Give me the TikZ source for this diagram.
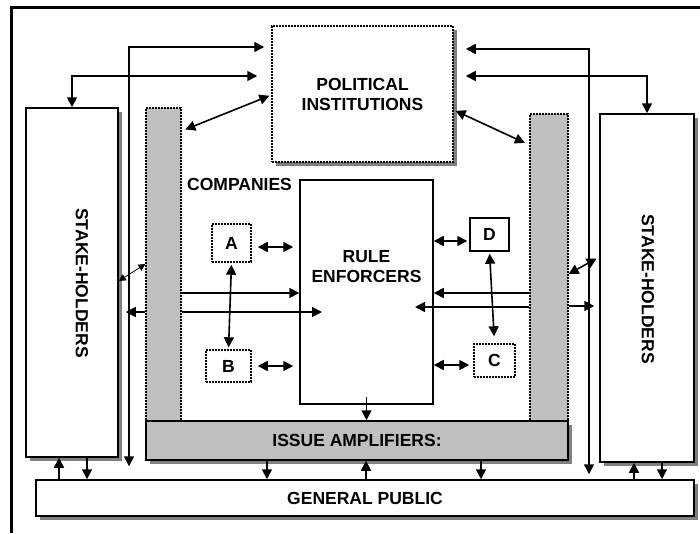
\documentclass[tikz,border=0pt]{standalone}
\usepackage{fontspec}
\setmainfont{Liberation Sans}
\usetikzlibrary{arrows.meta,shadows,positioning}

\begin{document}
\begin{tikzpicture}[x=1pt,y=-1pt,
  lbl/.style={font=\fontsize{17.5}{20}\selectfont\bfseries, align=center, inner sep=0pt},
  box/.style={draw=black, line width=1.5pt, fill=white, inner sep=0pt},
  shbox/.style={box, drop shadow={shadow xshift=4pt, shadow yshift=-4pt, fill=black!50, opacity=1}},
  dbox/.style={box, dash pattern=on 2pt off 1pt},
  bar/.style={draw=black, line width=1.2pt, fill=black!25, dash pattern=on 2pt off 1pt, inner sep=0pt},
  conn/.style={line width=1.6pt, -{Triangle[length=10pt,width=10pt]}},
  dconn/.style={line width=1.6pt, {Triangle[length=10pt,width=10pt]}-{Triangle[length=10pt,width=10pt]}},
  tconn/.style={line width=0.8pt, {Triangle[length=7pt,width=7pt]}-{Triangle[length=7pt,width=7pt]}}]
  \useasboundingbox (0,0) rectangle (700,533);
  \draw[line width=3pt] (11.5,533) -- (11.5,7.5) -- (700,7.5);

  % boxes
  \node[shbox, dash pattern=on 2pt off 1pt, minimum width=181pt, minimum height=136pt, lbl] (pol) at (362.5,94) {POLITICAL\\INSTITUTIONS};
  \node[shbox, minimum width=92pt, minimum height=349pt] (shl) at (72,282.5) {};
  \node[shbox, minimum width=94pt, minimum height=348pt] (shr) at (647,288) {};
  \node[lbl, rotate=-90] (shllbl) at (82,283) {STAKE-HOLDERS};
  \node[lbl, rotate=-90] (shrlbl) at (648,289) {STAKE-HOLDERS};
  \node[bar, minimum width=35pt, minimum height=313pt] (barl) at (163.5,264.5) {};
  \node[bar, minimum width=38pt, minimum height=307pt] (barr) at (549,267.5) {};
  \node[shbox, fill=black!25, minimum width=422pt, minimum height=39pt, lbl] (amp) at (357,440.5) {ISSUE AMPLIFIERS:};
  \node[shbox, minimum width=658pt, minimum height=36pt, lbl] (pub) at (365,498) {GENERAL PUBLIC};
  \node[box, minimum width=133pt, minimum height=224pt] (rule) at (366.5,292) {};
  \node[lbl] (rulelbl) at (366.5,267) {RULE\\ENFORCERS};
  \node[lbl, anchor=west] (comp) at (187,184) {COMPANIES};
  \node[dbox, minimum width=39pt, minimum height=38pt, lbl] (ca) at (231.5,243) {A};
  \node[dbox, minimum width=45pt, minimum height=32pt, lbl] (cb) at (228.5,366) {B};
  \node[box, minimum width=39pt, minimum height=33pt, lbl] (cd) at (489.5,234.5) {D};
  \node[dbox, minimum width=41pt, minimum height=33pt, lbl] (cc) at (494.5,360.5) {C};
  \coordinate (r1) at (322,312);
  \coordinate (r2) at (415,307);

  % political links
  \draw[dconn, shorten <=7pt, shorten >=13pt] (pol.west |- 0,47) -| (129,0 |- pub.north);
  \draw[dconn, shorten <=14pt] (pol.west |- 0,76) -| (shl.north);
  \draw[dconn, shorten <=12pt, shorten >=5pt] (pol.east |- 0,49) -| (589,0 |- pub.north);
  \draw[dconn, shorten <=12pt] (pol.east |- 0,76) -| (shr.north);
  \draw[dconn, shorten <=4pt, shorten >=2pt] (barl.east |- 0,131) -- (pol.west |- 0,95);
  \draw[dconn, shorten <=2pt, shorten >=5pt] (pol.east |- 0,110) -- (barr.west |- 0,145);

  % left side
  \draw[tconn] (shl.east |- 0,281) -- (barl.west |- 0,264);
  \draw[conn, shorten >=7pt] (barl.west |- 0,312) -- (shl.east |- 0,312);
  \draw[conn] (barl.east |- 0,293) -- (rule.west |- 0,293);
  \draw[conn] (barl.east |- 0,312) -- (r1);
  \draw[dconn, shorten <=6pt, shorten >=6pt] (ca.east |- 0,247) -- (rule.west |- 0,247);
  \draw[dconn, shorten <=6pt, shorten >=6pt] (cb.east) -- (cb.east -| rule.west);
  \draw[dconn, shorten <=2pt, shorten >=2pt] (ca.south) -- (cb.north);

  % right side
  \draw[dconn, shorten >=2pt] (rule.east |- 0,241) -- (cd.west |- 0,241);
  \draw[dconn, shorten <=2pt, shorten >=7pt] (cd.south) -- (cc.north);
  \draw[dconn, shorten >=4pt] (rule.east |- 0,365) -- (cc.west |- 0,365);
  \draw[conn] (barr.west |- 0,293) -- (rule.east |- 0,293);
  \draw[conn] (barr.west |- 0,307) -- (r2);
  \draw[conn, shorten >=5pt] (barr.east |- 0,306) -- (shr.west |- 0,306);
  \draw[dconn, shorten >=3pt] (barr.east |- 0,274) -- (shr.west |- 0,257);

  % bottom
  \draw[conn] (rule.south |- 0,397) -- (rule.south |- amp.north);
  \draw[conn] (59,0 |- pub.north) -- (59,0 |- shl.south);
  \draw[conn] (87,0 |- shl.south) -- (87,0 |- pub.north);
  \draw[conn] (267,0 |- amp.south) -- (267,0 |- pub.north);
  \draw[conn] (366,0 |- pub.north) -- (366,0 |- amp.south);
  \draw[conn] (481,0 |- amp.south) -- (481,0 |- pub.north);
  \draw[conn] (634,0 |- pub.north) -- (634,0 |- shr.south);
  \draw[conn] (662,0 |- shr.south) -- (662,0 |- pub.north);
\end{tikzpicture}
\end{document}
